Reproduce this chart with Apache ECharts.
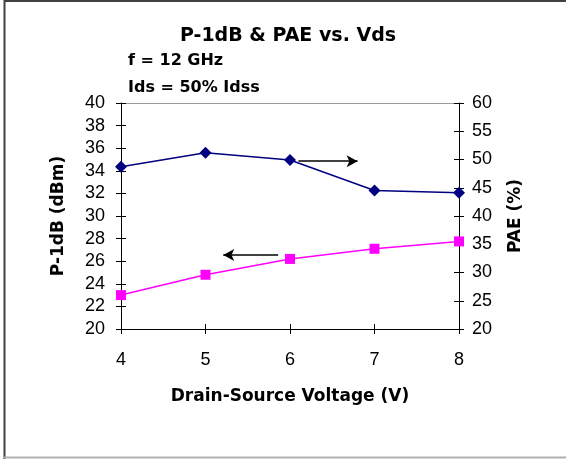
<!DOCTYPE html>
<html>
<head>
<meta charset="utf-8">
<script src="https://cdn.jsdelivr.net/npm/echarts@6/dist/echarts.min.js"></script>
<style>
  html, body { margin: 0; padding: 0; background: #fff; }
  #chart { width: 566px; height: 459px; }
</style>
</head>
<body>
<div id="chart"></div>
<script>
// datos
var vds = [4, 5, 6, 7, 8];
var p1db = [23.0, 24.8, 26.2, 27.1, 27.75];
var pae = [48.7, 51.2, 49.9, 44.5, 44.1];

var tickFont = { fontFamily: 'Liberation Sans', fontSize: 18, color: '#000' };

function pares(xs, ys) {
    return xs.map(function (x, i) { return [x, ys[i]]; });
}

var myChart = echarts.init(document.getElementById('chart'), null, { renderer: 'canvas' });

var option = {
    animation: false,
    backgroundColor: '#fff',
    grid: { left: 121, right: 107, top: 103, bottom: 130 },
    xAxis: [
        {
            type: 'value', position: 'bottom', min: 4, max: 8, interval: 1,
            name: 'Drain-Source Voltage (V)', nameLocation: 'middle', nameGap: 59,
            nameTextStyle: { fontFamily: 'DejaVu Sans', fontWeight: 'bold', fontSize: 17, color: '#000' },
            axisLine: { lineStyle: { color: '#000', width: 1 } },
            axisTick: { inside: false, length: 5, lineStyle: { color: '#000' } },
            axisLabel: Object.assign({ margin: 22 }, tickFont),
            splitLine: { show: false }
        },
        {
            type: 'value', position: 'bottom', min: 4, max: 8, interval: 1,
            axisLine: { show: false },
            axisTick: { inside: true, length: 5, lineStyle: { color: '#000' } },
            axisLabel: { show: false },
            splitLine: { show: false }
        },
        {
            type: 'value', position: 'top', min: 4, max: 8, interval: 1,
            axisLine: { lineStyle: { color: '#9a9a9a', width: 1 } },
            axisTick: { show: false },
            axisLabel: { show: false },
            splitLine: { show: false }
        }
    ],
    yAxis: [
        {
            type: 'value', position: 'left', min: 20, max: 40, interval: 2,
            name: 'P-1dB (dBm)', nameLocation: 'middle', nameGap: 54, nameRotate: 90,
            nameTextStyle: { fontFamily: 'DejaVu Sans', fontWeight: 'bold', fontSize: 17, color: '#000' },
            axisLine: { show: true, lineStyle: { color: '#000', width: 1 } },
            axisTick: { show: true, inside: false, length: 5, lineStyle: { color: '#000' } },
            axisLabel: Object.assign({ margin: 16 }, tickFont),
            splitLine: { show: false }
        },
        {
            type: 'value', position: 'right', min: 20, max: 60, interval: 5,
            name: 'PAE (%)', nameLocation: 'middle', nameGap: 48, nameRotate: 90,
            nameTextStyle: { fontFamily: 'DejaVu Sans', fontWeight: 'bold', fontSize: 17, color: '#000' },
            axisLine: { show: true, lineStyle: { color: '#000', width: 1 } },
            axisTick: { show: true, inside: false, length: 5, lineStyle: { color: '#000' } },
            axisLabel: Object.assign({ margin: 13 }, tickFont),
            splitLine: { show: false }
        },
        {
            type: 'value', position: 'left', min: 20, max: 40, interval: 2,
            axisLine: { show: false },
            axisTick: { show: true, inside: true, length: 5, lineStyle: { color: '#000' } },
            axisLabel: { show: false },
            splitLine: { show: false }
        },
        {
            type: 'value', position: 'right', min: 20, max: 60, interval: 5,
            axisLine: { show: false },
            axisTick: { show: true, inside: true, length: 5, lineStyle: { color: '#000' } },
            axisLabel: { show: false },
            splitLine: { show: false }
        }
    ],
    series: [
        {
            name: 'PAE',
            type: 'line',
            xAxisIndex: 0,
            yAxisIndex: 1,
            data: pares(vds, pae),
            symbol: 'diamond',
            symbolSize: 12,
            lineStyle: { color: '#000080', width: 1.5 },
            itemStyle: { color: '#000080' },
            markLine: {
                silent: true,
                symbol: ['none', 'arrow'],
                symbolSize: [9, 11],
                label: { show: false },
                lineStyle: { color: '#000', width: 1.5, type: 'solid' },
                data: [[{ coord: [6.1, 49.7] }, { coord: [6.8, 49.7] }]]
            }
        },
        {
            name: 'P-1dB',
            type: 'line',
            xAxisIndex: 0,
            yAxisIndex: 0,
            data: pares(vds, p1db),
            symbol: 'rect',
            symbolSize: 10,
            lineStyle: { color: '#ff00ff', width: 1.5 },
            itemStyle: { color: '#ff00ff' },
            markLine: {
                silent: true,
                symbol: ['none', 'arrow'],
                symbolSize: [9, 11],
                label: { show: false },
                lineStyle: { color: '#000', width: 1.5, type: 'solid' },
                data: [[{ coord: [5.86, 26.55] }, { coord: [5.21, 26.55] }]]
            }
        }
    ],
    graphic: [
        { type: 'line', shape: { x1: 4.5, y1: 0, x2: 4.5, y2: 459 }, style: { stroke: '#404040', lineWidth: 2 } },
        { type: 'line', shape: { x1: 4, y1: 1, x2: 566, y2: 1 }, style: { stroke: '#404040', lineWidth: 2 } },
        { type: 'line', shape: { x1: 4, y1: 457.5, x2: 566, y2: 457.5 }, style: { stroke: '#b0b0b0', lineWidth: 2 } },
        {
            type: 'text', x: 288, y: 36,
            style: { text: 'P-1dB & PAE vs. Vds', font: 'bold 19px "DejaVu Sans"', fill: '#000', align: 'center', verticalAlign: 'middle' }
        },
        {
            type: 'text', x: 128, y: 61,
            style: { text: 'f = 12 GHz', font: 'bold 16px "DejaVu Sans"', fill: '#000', align: 'left', verticalAlign: 'middle' }
        },
        {
            type: 'text', x: 128, y: 88,
            style: { text: 'Ids = 50% Idss', font: 'bold 16px "DejaVu Sans"', fill: '#000', align: 'left', verticalAlign: 'middle' }
        }
    ]
};

myChart.setOption(option);
window.addEventListener('resize', myChart.resize);
</script>
</body>
</html>
